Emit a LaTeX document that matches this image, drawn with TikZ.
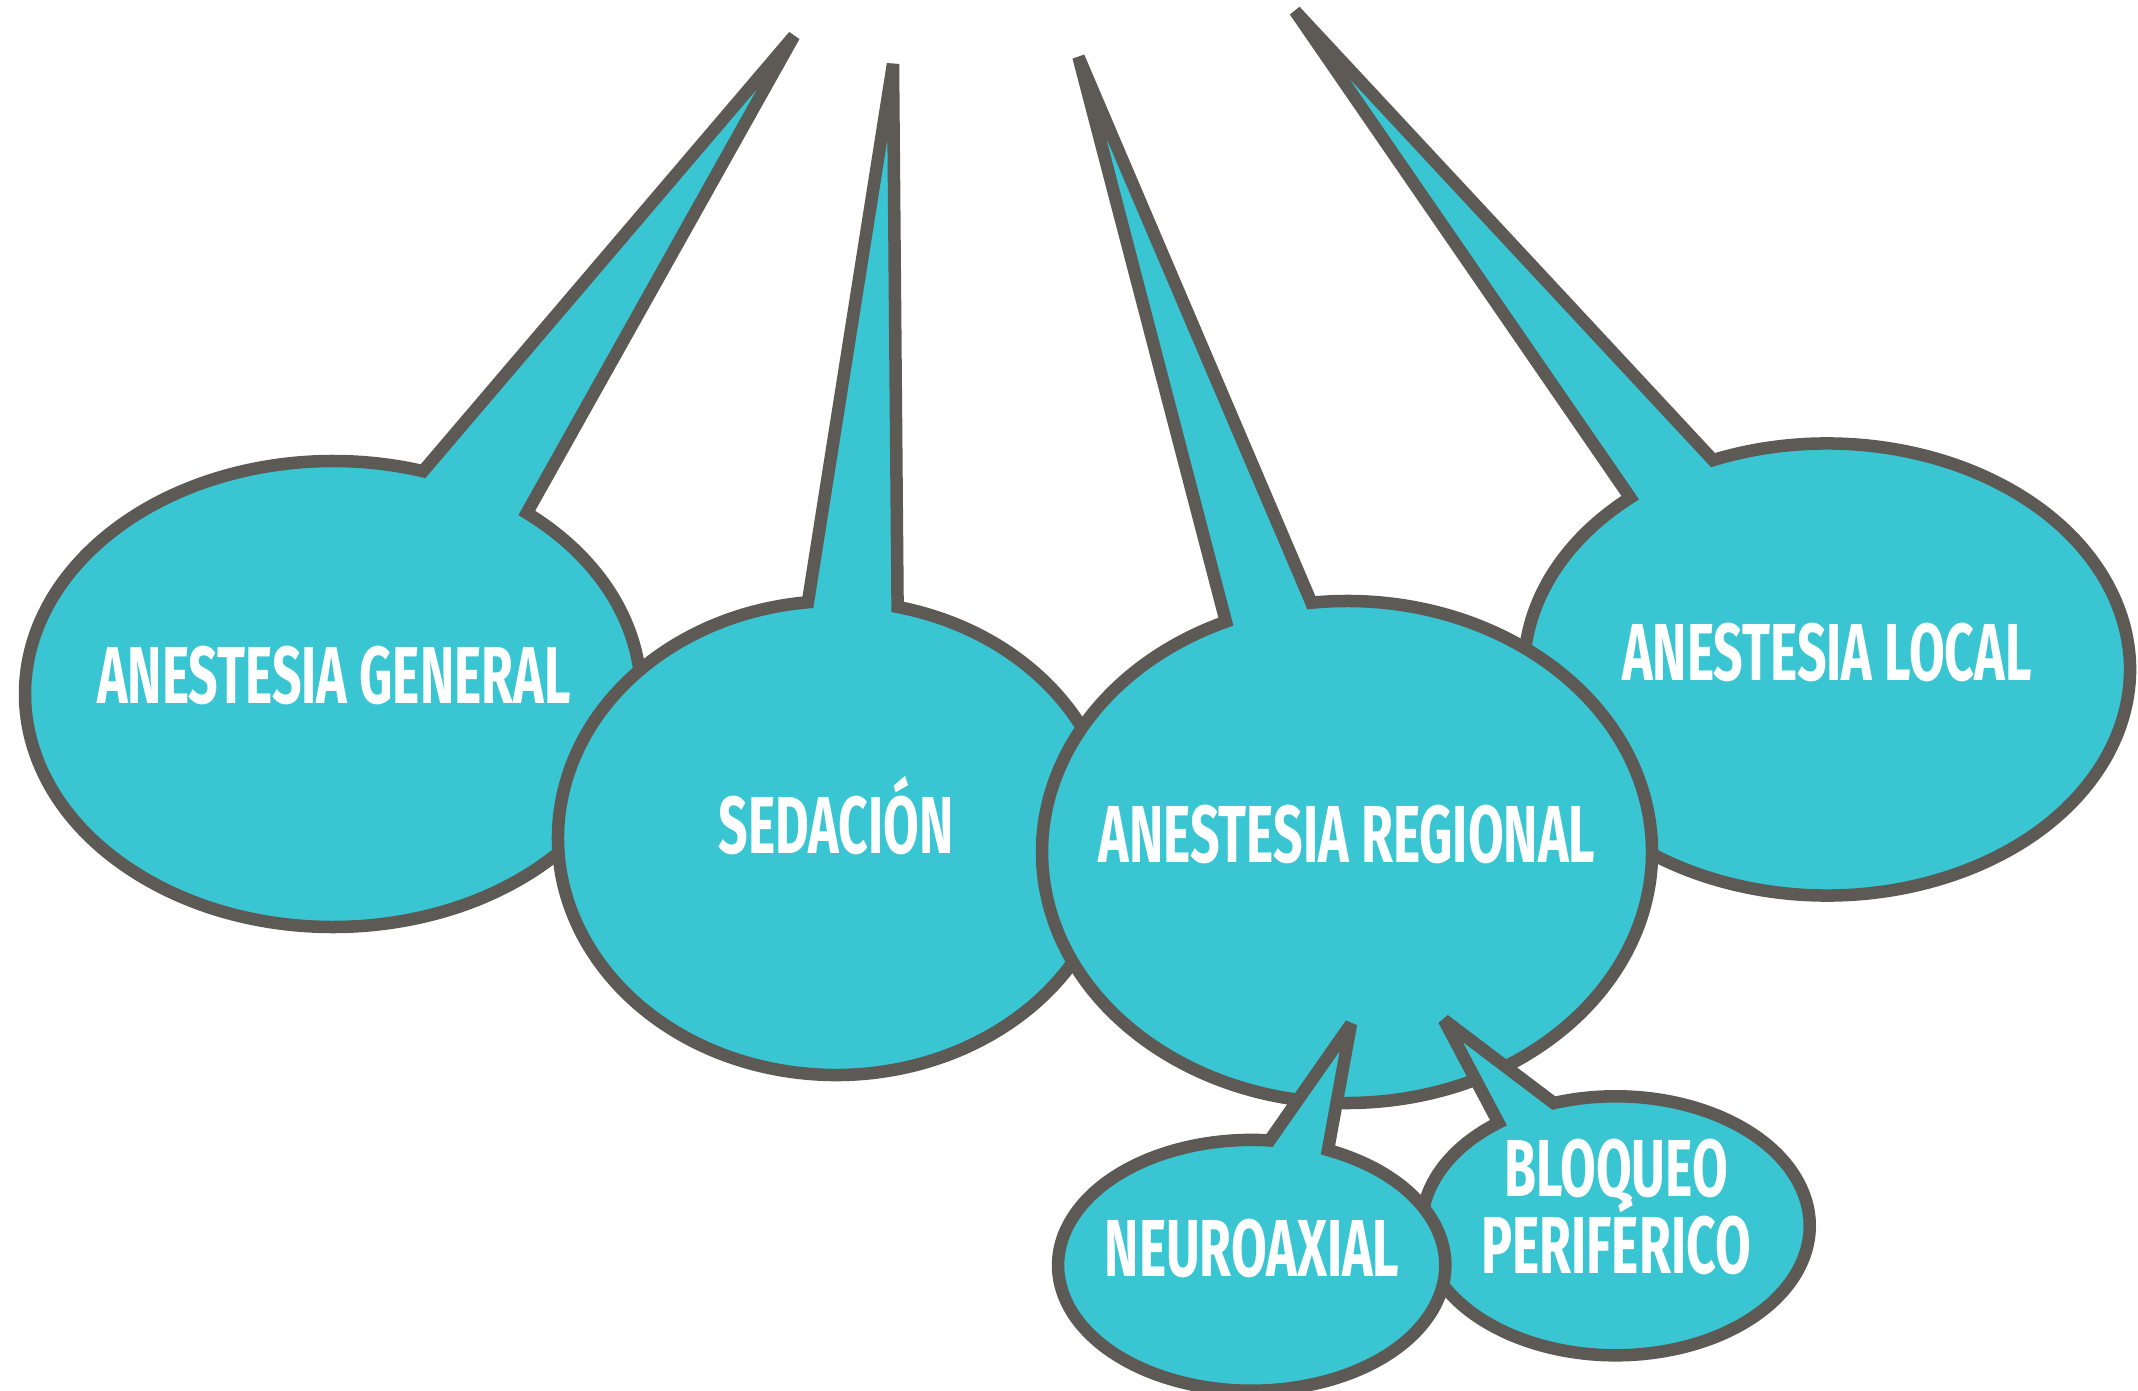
\documentclass[tikz,border=0pt]{standalone}
\usepackage{fontspec}
\setmainfont{Fira Sans}[FakeStretch=0.64]
\definecolor{bubble_cyan}{RGB}{57, 197, 210}
\definecolor{bubble_gray}{RGB}{93, 90, 85}
\newcommand{\bubblefont}{\bfseries\fontsize{23}{22}\selectfont\lineskiplimit=-20pt\relax}
\tikzset {
  bubble/.style = {draw=bubble_gray, fill=bubble_cyan, line width=0.125cm, miter limit=2},
  bubbletext/.style = {text=white, font=\bubblefont, align=center, inner sep=0pt},
}
% ellipse with a pointed tail: cx, cy, rx, ry, tail angles t1 < t2, tip x, tip y
\newcommand{\callout}[8]{%
  \draw[bubble] (#7,#8) -- ({#1+#3*cos(#6)},{#2+#4*sin(#6)})
    arc[start angle=#6, end angle={#5+360}, x radius=#3, y radius=#4] -- cycle;}

\begin{document}
\begin{tikzpicture}[x=0.01cm, y=-0.01cm]
    \useasboundingbox (0,0) rectangle (2138,1391);

    \callout{333}{694}{308}{233}{-73}{-51}{794}{36}
    \node[bubbletext] (general) at (334,675) {ANESTESIA GENERAL};

    \callout{836}{838}{278}{237}{-95.8}{-77.2}{893}{64}
    \node[bubbletext] (sedacion) at (836,816) {SEDACIÓN};

    \callout{1827}{669.5}{303}{226}{-130.5}{-112.1}{1295}{11}
    \node[bubbletext] (local) at (1827,652) {ANESTESIA LOCAL};

    \callout{1347}{852}{305}{251}{-113.4}{-96.7}{1078.5}{57}
    \node[bubbletext] (regional) at (1347,834) {ANESTESIA REGIONAL};

    \callout{1615.7}{1225.8}{194}{129.5}{-127.2}{-108.6}{1444}{1020}
    \node[bubbletext] (bloqueo) at (1616,1207) {BLOQUEO\\PERIFÉRICO};

    \callout{1251.7}{1265.3}{193.6}{125.4}{-84.7}{-66.8}{1351}{1024}
    \node[bubbletext] (neuroaxial) at (1252,1248) {NEUROAXIAL};

  \end{tikzpicture}
\end{document}
